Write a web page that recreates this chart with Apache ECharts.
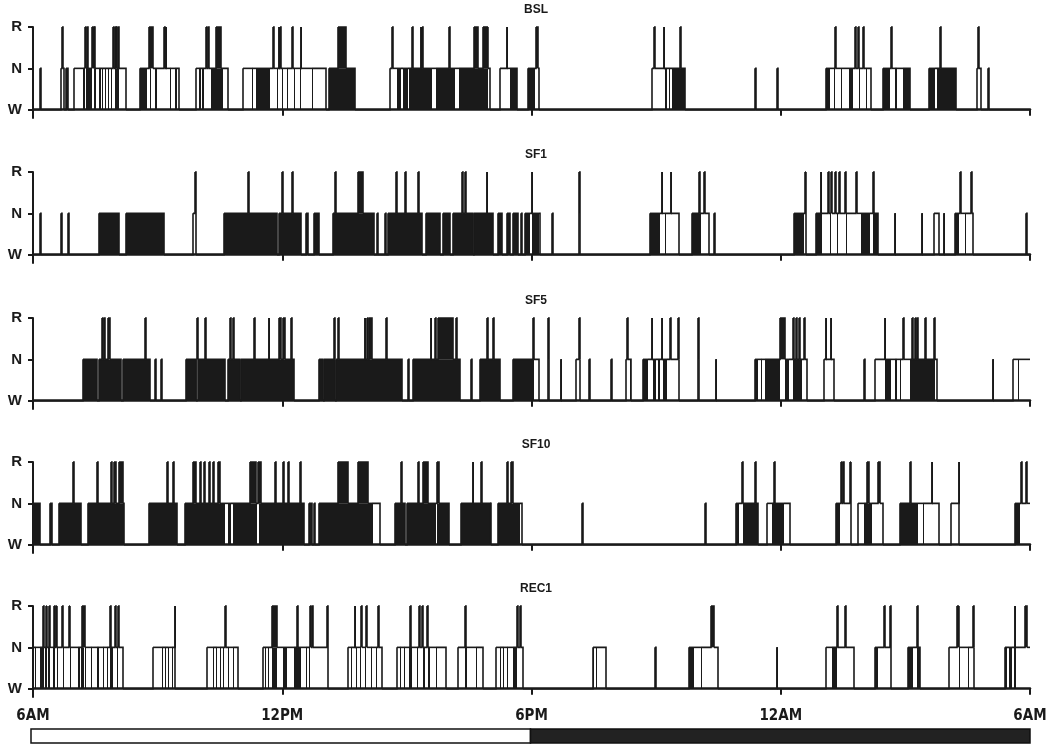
<!DOCTYPE html>
<html>
<head>
<meta charset="utf-8">
<script src="https://cdn.jsdelivr.net/npm/echarts@6/dist/echarts.min.js"></script>
<style>
  html, body { margin: 0; padding: 0; background: #fff; }
  #chart { width: 1050px; height: 746px; }
</style>
</head>
<body>
<div id="chart"></div>
<script>
// hypnograms, hours after 6AM (0..24). W=0, N=1, R=2
var PANELS = ['BSL', 'SF1', 'SF5', 'SF10', 'REC1'];
var TIME_LABELS = ['6AM', '12PM', '6PM', '12AM', '6AM'];
var STAGE_LABELS = ['W', 'N', 'R'];
var PHASES = [[0, 12, 'light'], [12, 24, 'dark']];

// N bouts (outline), N/W dense fills, R bouts
var BSL_N = [[0.67,0.74],[0.98,2.25],[2.58,3.51],[3.92,4.69],[5.06,7.05],[8.59,10.99],[11.24,11.64],[11.92,12.19],[14.89,15.70],[19.08,20.18],[20.46,21.11],[21.56,22.21],[22.72,22.82]];
var BSL_FILL = [[0.16,0.20],[0.80,0.85],[1.21,1.24],[1.28,1.32],[1.33,1.41],[1.48,1.52],[1.58,1.64],[1.67,1.69],[1.73,1.76],[1.80,1.83],[1.87,1.90],[1.97,2.07],[2.58,2.74],[2.82,2.85],[2.94,2.99],[3.29,3.33],[3.43,3.46],[4.00,4.04],[4.08,4.11],[4.28,4.57],[5.26,5.30],[5.38,5.71],[5.87,5.90],[5.99,6.03],[6.11,6.14],[6.28,6.30],[6.42,6.46],[6.72,6.75],[7.13,7.74],[8.76,8.86],[8.90,9.02],[9.05,9.61],[9.70,10.17],[10.26,10.95],[11.48,11.64],[11.92,12.09],[15.22,15.25],[15.31,15.33],[15.38,15.70],[17.37,17.40],[17.91,17.94],[19.08,19.18],[19.28,19.30],[19.44,19.46],[19.65,19.73],[19.89,19.91],[20.05,20.07],[20.46,20.62],[20.74,20.81],[20.95,21.11],[21.56,21.72],[21.76,22.21],[22.98,23.01]];
var BSL_REM = [[0.69,0.72],[1.25,1.27],[1.30,1.32],[1.43,1.46],[1.48,1.50],[1.93,1.95],[1.97,1.99],[2.01,2.03],[2.05,2.07],[2.80,2.90],[3.15,3.17],[3.19,3.21],[4.16,4.18],[4.21,4.23],[4.41,4.53],[5.77,5.79],[5.91,5.93],[5.95,5.97],[6.24,6.26],[6.44,6.46],[7.33,7.54],[8.65,8.67],[9.12,9.14],[9.33,9.35],[9.37,9.39],[10.02,10.04],[10.62,10.72],[10.83,10.96],[11.40,11.42],[12.12,12.15],[14.95,14.97],[15.18,15.20],[15.58,15.60],[19.30,19.32],[19.79,19.81],[19.85,19.88],[19.97,20.00],[20.66,20.68],[21.84,21.86],[22.75,22.78]];

var SF1_N = [[3.86,3.93],[11.84,12.20],[13.14,13.16],[14.85,15.54],[15.87,16.27],[18.31,18.60],[18.86,20.34],[21.68,21.80],[22.20,22.62]];
var SF1_FILL = [[0.18,0.20],[0.68,0.70],[0.85,0.87],[1.60,2.07],[2.25,3.15],[4.59,5.87],[5.93,6.46],[6.58,6.61],[6.76,6.89],[7.23,8.20],[8.28,8.30],[8.47,8.49],[8.54,9.37],[9.46,9.80],[9.88,10.04],[10.10,10.59],[10.61,11.07],[11.20,11.28],[11.40,11.48],[11.56,11.68],[11.74,11.77],[11.84,11.96],[12.02,12.18],[12.49,12.51],[14.85,15.10],[15.21,15.23],[15.87,16.07],[16.39,16.41],[18.31,18.55],[18.86,19.00],[19.18,19.20],[19.36,19.38],[19.56,19.58],[19.93,20.14],[20.22,20.34],[20.74,20.76],[21.39,21.41],[21.92,21.94],[22.20,22.28],[22.43,22.45],[23.91,23.93]];
var SF1_REM = [[3.91,3.93],[5.18,5.21],[5.99,6.03],[6.24,6.26],[7.26,7.29],[7.82,7.94],[8.75,8.77],[8.95,8.97],[9.27,9.29],[10.33,10.36],[10.39,10.42],[10.92,10.94],[12.00,12.02],[13.14,13.16],[15.13,15.15],[15.35,15.37],[16.03,16.05],[16.15,16.17],[18.59,18.61],[18.96,18.98],[19.13,19.15],[19.22,19.24],[19.30,19.32],[19.40,19.42],[19.54,19.56],[19.81,19.83],[20.22,20.24],[22.31,22.33],[22.59,22.61]];

var SF5_N = [[11.56,12.17],[12.40,12.42],[13.08,13.17],[14.28,14.40],[14.69,15.56],[16.02,16.04],[17.37,18.62],[19.04,19.28],[20.26,21.76],[23.60,24.00]];
var SF5_FILL = [[1.20,1.55],[1.58,2.11],[2.17,2.82],[2.93,2.95],[3.09,3.11],[3.69,3.93],[3.96,4.63],[4.70,4.98],[5.01,6.28],[6.89,6.98],[7.00,7.27],[7.30,8.88],[9.02,9.04],[9.14,10.28],[10.54,10.56],[10.75,11.24],[11.56,12.05],[12.70,12.72],[13.39,13.41],[13.91,13.93],[14.36,14.38],[14.69,14.81],[14.93,15.00],[15.05,15.10],[15.17,15.26],[16.43,16.45],[17.37,17.45],[17.52,17.56],[17.62,17.98],[18.10,18.20],[18.30,18.50],[20.01,20.03],[20.50,20.66],[20.75,20.80],[20.86,20.90],[21.11,21.72],[23.10,23.12],[23.70,23.72]];
var SF5_REM = [[1.67,1.69],[1.71,1.74],[1.80,1.85],[2.69,2.71],[3.94,3.96],[4.14,4.16],[4.74,4.76],[4.82,4.85],[5.32,5.34],[5.67,5.69],[5.91,5.96],[6.02,6.07],[6.21,6.23],[7.24,7.26],[7.35,7.37],[7.98,8.00],[8.03,8.06],[8.10,8.15],[8.49,8.51],[9.57,9.59],[9.67,9.69],[9.76,10.10],[10.19,10.21],[10.94,10.96],[11.07,11.09],[12.03,12.05],[12.40,12.42],[13.14,13.16],[14.30,14.32],[14.89,14.91],[15.13,15.15],[15.34,15.36],[15.53,15.55],[16.02,16.04],[17.98,18.10],[18.30,18.33],[18.37,18.40],[18.43,18.47],[18.55,18.58],[19.08,19.10],[19.20,19.22],[20.50,20.52],[20.95,20.97],[21.15,21.18],[21.22,21.25],[21.28,21.30],[21.48,21.50],[21.70,21.72]];

var SF10_N = [[3.65,6.52],[8.15,8.35],[9.00,10.02],[10.30,10.99],[11.20,11.76],[16.92,17.45],[17.66,18.22],[19.32,19.68],[19.85,20.46],[20.87,21.80],[22.09,22.30],[23.63,24.00]];
var SF10_FILL = [[0.00,0.18],[0.42,0.46],[0.63,1.15],[1.32,2.20],[2.80,3.47],[3.65,4.62],[4.70,4.77],[4.82,5.40],[5.45,6.52],[6.64,6.72],[6.76,6.80],[6.89,8.19],[8.72,8.96],[9.00,9.70],[9.73,10.02],[10.30,10.99],[11.01,11.03],[11.20,11.72],[13.22,13.24],[16.17,16.19],[16.92,17.00],[17.08,17.45],[17.78,18.08],[19.32,19.42],[20.00,20.20],[20.87,21.31],[21.43,21.45],[23.63,23.75]];
var SF10_REM = [[0.97,0.99],[1.55,1.57],[1.87,1.91],[1.95,1.99],[2.07,2.17],[3.22,3.24],[3.38,3.40],[3.84,3.92],[4.03,4.05],[4.11,4.13],[4.24,4.27],[4.33,4.36],[4.45,4.49],[5.22,5.38],[5.42,5.50],[5.82,5.84],[6.02,6.04],[6.14,6.16],[6.43,6.45],[7.33,7.58],[7.82,8.07],[8.87,8.89],[9.27,9.29],[9.40,9.50],[9.72,9.78],[10.58,10.60],[10.78,10.80],[11.40,11.44],[11.50,11.56],[17.06,17.08],[17.38,17.40],[17.83,17.85],[19.45,19.47],[19.50,19.52],[19.67,19.69],[20.08,20.12],[20.35,20.40],[21.10,21.13],[21.63,21.65],[22.28,22.30],[23.78,23.80],[23.90,23.92]];

var REC1_N = [[0.00,2.17],[2.90,3.43],[4.18,4.93],[5.54,7.09],[7.58,8.39],[8.76,9.93],[10.22,10.83],[11.15,11.80],[13.47,13.79],[15.79,16.48],[19.08,19.77],[20.26,20.66],[21.07,21.35],[22.04,22.66],[23.39,24.00]];
var REC1_FILL = [[0.04,0.08],[0.18,0.26],[0.30,0.33],[0.37,0.40],[0.48,0.52],[0.57,0.60],[0.72,0.75],[0.88,0.91],[1.08,1.13],[1.15,1.22],[1.25,1.28],[1.40,1.43],[1.55,1.58],[1.68,1.72],[1.77,1.80],[1.85,1.93],[2.02,2.05],[3.10,3.12],[3.18,3.20],[3.24,3.26],[3.35,3.37],[4.33,4.36],[4.41,4.44],[4.49,4.52],[4.57,4.60],[4.69,4.72],[4.81,4.84],[5.58,5.61],[5.66,5.69],[5.75,5.87],[6.03,6.11],[6.28,6.44],[6.56,6.59],[6.64,6.67],[7.66,7.69],[7.78,7.81],[7.86,7.89],[7.98,8.01],[8.14,8.17],[8.26,8.29],[8.84,8.87],[8.92,8.95],[9.04,9.12],[9.24,9.27],[9.40,9.43],[9.52,9.55],[9.69,9.72],[10.41,10.44],[10.66,10.69],[11.23,11.26],[11.31,11.34],[11.40,11.43],[11.56,11.64],[13.47,13.50],[13.55,13.57],[14.97,14.99],[15.79,15.91],[16.07,16.11],[17.90,17.92],[19.24,19.36],[20.26,20.34],[21.07,21.19],[21.27,21.35],[22.28,22.30],[22.50,22.53],[23.39,23.45],[23.50,23.56],[23.62,23.66]];
var REC1_REM = [[0.24,0.26],[0.32,0.34],[0.38,0.40],[0.50,0.52],[0.56,0.58],[0.70,0.72],[0.87,0.89],[1.18,1.24],[1.85,1.87],[1.97,1.99],[2.05,2.07],[3.41,3.43],[4.63,4.65],[5.75,5.87],[6.36,6.38],[6.68,6.70],[6.72,6.74],[7.07,7.09],[7.74,7.76],[7.90,7.92],[8.02,8.04],[8.31,8.33],[9.08,9.10],[9.30,9.32],[9.37,9.39],[9.49,9.51],[10.41,10.43],[11.64,11.68],[11.73,11.75],[16.31,16.40],[19.35,19.37],[19.54,19.56],[20.48,20.50],[20.62,20.66],[21.27,21.30],[22.25,22.29],[22.62,22.64],[23.63,23.65],[23.88,23.92]];

var SERIES_N = [BSL_N, SF1_N, SF5_N, SF10_N, REC1_N];
var SERIES_FILL = [BSL_FILL, SF1_FILL, SF5_FILL, SF10_FILL, REC1_FILL];
var SERIES_REM = [BSL_REM, SF1_REM, SF5_REM, SF10_REM, REC1_REM];

(function () {
  var ink = '#1a1a1a';
  var tops = [27, 172, 318, 462, 606];
  var plotH = 91;
  var narrow = "'Liberation Sans Narrow', 'DejaVu Sans Condensed', 'Liberation Sans', sans-serif";

  function inAny(list, t) {
    for (var i = 0; i < list.length; i++) {
      if (t >= list[i][0] && t < list[i][1]) return true;
    }
    return false;
  }

  // step segments [t0, t1, level, nextLevel] from the bout lists
  function buildSteps(nb, fill, rem) {
    var pts = [0, 24];
    [nb, fill, rem].forEach(function (l) {
      l.forEach(function (d) { pts.push(d[0], d[1]); });
    });
    pts.sort(function (a, b) { return a - b; });
    var uniq = pts.filter(function (v, i) { return i === 0 || v !== pts[i - 1]; });
    var lv = [];
    for (var i = 0; i < uniq.length - 1; i++) {
      var mid = (uniq[i] + uniq[i + 1]) / 2;
      lv.push(inAny(rem, mid) ? 2 : (inAny(nb, mid) || inAny(fill, mid)) ? 1 : 0);
    }
    var segs = [];
    for (var j = 0; j < lv.length; j++) {
      segs.push([uniq[j], uniq[j + 1], lv[j], j + 1 < lv.length ? lv[j + 1] : lv[j]]);
    }
    return segs;
  }

  function px(v) { return Math.round(v); }

  function stepRender(params, api) {
    var a = api.coord([api.value(0), api.value(2)]);
    var b = api.coord([api.value(1), api.value(2)]);
    var c = api.coord([api.value(1), api.value(3)]);
    return {
      type: 'polyline',
      shape: { points: [[px(a[0]), a[1]], [px(b[0]), b[1]], [px(c[0]), c[1]]] },
      style: { stroke: ink, lineWidth: 1.6, fill: null, lineJoin: 'miter' }
    };
  }

  function blockRender(lo, hi) {
    return function (params, api) {
      var a = api.coord([api.value(0), hi]);
      var b = api.coord([api.value(1), lo]);
      var x0 = px(a[0]);
      var w = Math.max(px(b[0]) - x0, 1);
      return {
        type: 'rect',
        shape: { x: x0, y: a[1], width: w, height: b[1] - a[1] },
        style: { fill: ink }
      };
    };
  }

  var grids = [], xAxes = [], yAxes = [], series = [], titles = [];

  PANELS.forEach(function (name, i) {
    grids.push({ left: 33, right: 20, top: tops[i], height: plotH });
    titles.push({
      text: name, left: 531, top: tops[i] - 28, textAlign: 'center',
      textStyle: { fontSize: 12, fontWeight: 'bold', color: ink, fontFamily: 'Liberation Sans, Arial, sans-serif' }
    });
    xAxes.push({
      gridIndex: i, type: 'value', min: 0, max: 24, interval: 6,
      axisLine: { show: true, lineStyle: { color: ink, width: 2.5 } },
      axisTick: { show: true, length: 6, lineStyle: { color: ink, width: 2 } },
      axisLabel: {
        show: i === PANELS.length - 1, margin: 12,
        showMinLabel: true, showMaxLabel: true,
        color: ink, fontSize: 15, fontWeight: 'bold', fontFamily: narrow,
        formatter: function (v) { return TIME_LABELS[Math.round(v / 6)]; }
      },
      splitLine: { show: false }
    });
    yAxes.push({
      gridIndex: i, type: 'value', min: -0.2, max: 2,
      axisLine: { show: true, lineStyle: { color: ink, width: 2 } },
      axisTick: { show: true, length: 5, customValues: [0, 1, 2], lineStyle: { color: ink, width: 2 } },
      axisLabel: {
        customValues: [0, 1, 2], margin: 11,
        color: ink, fontSize: 15, fontWeight: 'bold', fontFamily: 'Liberation Sans, Arial, sans-serif',
        formatter: function (v) { return STAGE_LABELS[Math.round(v)] || ''; }
      },
      splitLine: { show: false }
    });

    series.push({
      type: 'custom', xAxisIndex: i, yAxisIndex: i, silent: true,
      renderItem: blockRender(0, 1), data: SERIES_FILL[i]
    });
    series.push({
      type: 'custom', xAxisIndex: i, yAxisIndex: i, silent: true,
      renderItem: blockRender(1, 2), data: SERIES_REM[i]
    });
    series.push({
      type: 'custom', xAxisIndex: i, yAxisIndex: i, silent: true,
      renderItem: stepRender,
      data: buildSteps(SERIES_N[i], SERIES_FILL[i], SERIES_REM[i])
    });
  });

  // light / dark bar
  var bi = PANELS.length;
  grids.push({ left: 31, right: 20, top: 729, height: 14 });
  xAxes.push({ gridIndex: bi, type: 'value', min: 0, max: 24, show: false });
  yAxes.push({ gridIndex: bi, type: 'value', min: 0, max: 1, show: false });
  series.push({
    type: 'custom', xAxisIndex: bi, yAxisIndex: bi, silent: true,
    data: PHASES.map(function (p) { return [p[0], p[1], p[2] === 'light' ? 0 : 1]; }),
    renderItem: function (params, api) {
      var a = api.coord([api.value(0), 1]);
      var b = api.coord([api.value(1), 0]);
      return {
        type: 'rect',
        shape: { x: a[0], y: a[1], width: b[0] - a[0], height: b[1] - a[1] },
        style: { fill: api.value(2) ? '#222' : '#fff', stroke: '#111', lineWidth: 1.5 }
      };
    }
  });

  var chart = echarts.init(document.getElementById('chart'), null, { renderer: 'canvas' });
  chart.setOption({
    animation: false,
    backgroundColor: '#fff',
    title: titles,
    grid: grids,
    xAxis: xAxes,
    yAxis: yAxes,
    series: series
  });
  window.addEventListener('resize', function () { chart.resize(); });
})();
</script>
</body>
</html>
